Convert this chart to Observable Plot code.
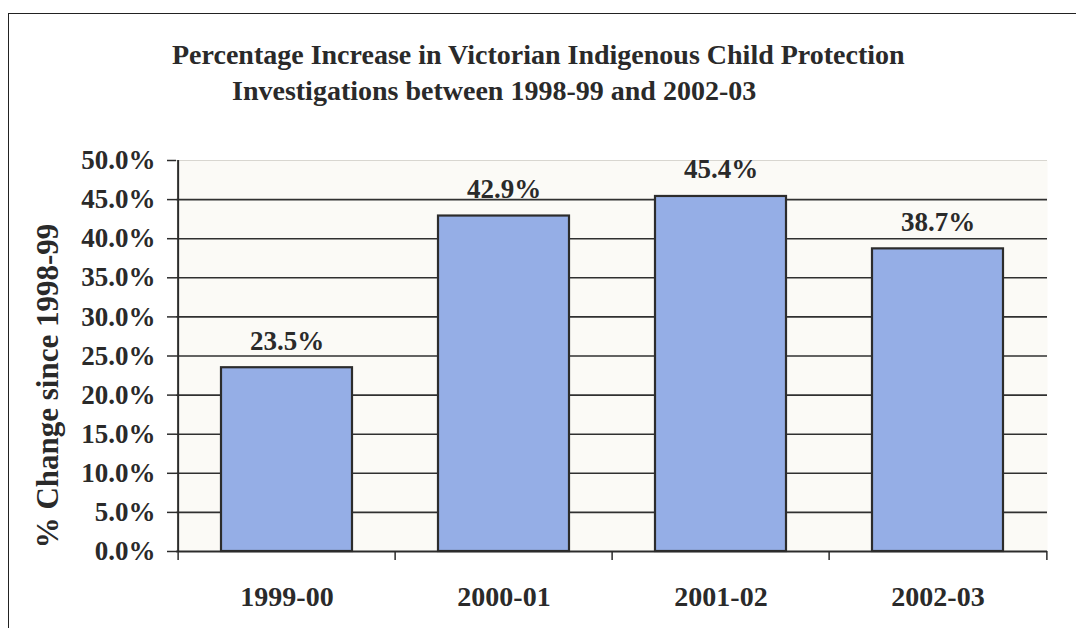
<!DOCTYPE html>
<html><head><meta charset="utf-8">
<script src="https://cdn.jsdelivr.net/npm/d3@7"></script>
<script src="https://cdn.jsdelivr.net/npm/@observablehq/plot@0.6"></script>
<style>
body{margin:0;background:#fff;}
#wrap{position:relative;width:1076px;height:628px;overflow:hidden;font-family:"Liberation Serif","Times New Roman",serif;font-weight:bold;color:#2a2a2a;background:#fff;}
#border{position:absolute;left:8px;top:13px;width:1080px;height:640px;border-left:1.5px solid #222;border-top:1.5px solid #222;}
.t{position:absolute;white-space:nowrap;font-size:28px;line-height:30px;}
#t1{left:172px;top:40px;}
#t2{left:232px;top:76px;}
#ylab{position:absolute;left:-152px;top:371px;width:400px;height:30px;line-height:30px;text-align:center;font-size:31px;white-space:nowrap;transform:rotate(-90deg);transform-origin:center;}
#chart{position:absolute;left:0;top:120px;}
</style></head><body>
<div id="wrap">
  <div id="border"></div>
  <div class="t" id="t1">Percentage Increase in Victorian Indigenous Child Protection</div>
  <div class="t" id="t2">Investigations between 1998-99 and 2002-03</div>
  <div id="ylab">% Change since 1998-99</div>
  <div id="chart"></div>
</div>
<script>
const categories = ["1999-00", "2000-01", "2001-02", "2002-03"];
const values = [23.5, 42.9, 45.4, 38.7];
const valueLabels = ["23.5%", "42.9%", "45.4%", "38.7%"];
const yTicks = [0, 5, 10, 15, 20, 25, 30, 35, 40, 45, 50];

const data = categories.map((c, i) => ({cat: c, value: values[i], label: valueLabels[i]}));
const W = 1076, H = 508, mL = 176, mR = 29, mT = 40, mB = 77;
const band = (W - mL - mR) / categories.length;

const chart = Plot.plot({
  width: W, height: H,
  marginLeft: mL, marginRight: mR, marginTop: mT, marginBottom: mB,
  style: {fontFamily: "'Liberation Serif','Times New Roman',serif", fontWeight: "bold", color: "#2a2a2a", background: "transparent"},
  x: {domain: categories, padding: 0},
  y: {domain: [0, 50]},
  marks: [
    Plot.frame({fill: "#fbfaf6", stroke: "none"}),
    Plot.ruleY(yTicks.filter(d => d > 0 && d < 50), {stroke: "#303030", strokeWidth: 1.6}),
    Plot.ruleY([50], {stroke: "#d8d6d0", strokeWidth: 1}),
    Plot.barY(data, {x: "cat", y: "value", fill: "#95aee6", stroke: "#2c2c2c", strokeWidth: 2.2, insetLeft: 43, insetRight: 43}),
    Plot.text(data, {x: "cat", y: "value", text: "label", dy: -18, lineAnchor: "bottom", fontSize: 27, fontWeight: "bold", fill: "#2a2a2a"}),
    Plot.ruleY([0], {stroke: "#2c2c2c", strokeWidth: 2}),
    Plot.ruleX([categories[0]], {stroke: "#2c2c2c", strokeWidth: 2, dx: -band / 2}),
    Plot.ruleX(categories, {y1: 0, y2: 0, dx: -band / 2, insetBottom: -9, stroke: "#2c2c2c", strokeWidth: 1.5}),
    Plot.ruleX([categories[categories.length - 1]], {y1: 0, y2: 0, dx: band / 2, insetBottom: -9, stroke: "#2c2c2c", strokeWidth: 1.5}),
    Plot.axisY(yTicks, {tickSize: 9, tickPadding: 12, tickFormat: d => d.toFixed(1) + "%", fontSize: 27, fontWeight: "bold", label: null, stroke: "#2c2c2c", strokeWidth: 1.5}),
    Plot.axisX({tickSize: 0, tickPadding: 35, fontSize: 28, fontWeight: "bold", label: null})
  ]
});
document.getElementById("chart").appendChild(chart);
</script>
</body></html>
